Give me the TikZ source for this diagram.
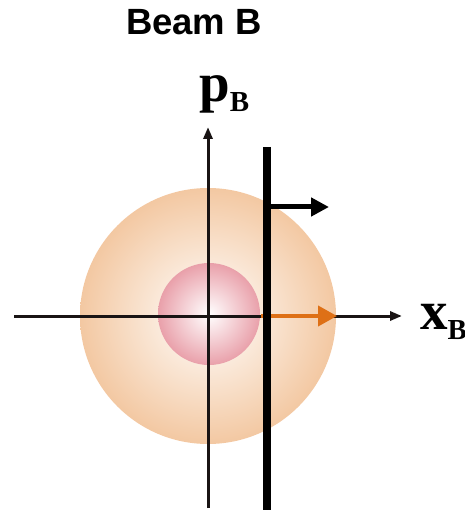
\documentclass[tikz,border=0pt]{standalone}
\usepackage{fontspec}
\setmainfont{Liberation Serif}
\newfontfamily\titlefont{Liberation Sans}
\usetikzlibrary{arrows.meta}
\definecolor{peachc}{RGB}{243,200,162}
\definecolor{pinkc}{RGB}{233,160,170}
\definecolor{orangec}{RGB}{222,112,22}
\definecolor{inkc}{RGB}{25,20,20}
\tikzset{
  axis/.style={draw=inkc, line width=3pt, -{Triangle[length=12pt,width=9pt]}},
  bar/.style={draw=black, line width=8pt},
  kick/.style={draw=black, line width=5pt, -{Triangle[length=18pt,width=18pt]}},
  okick/.style={draw=orangec, line width=4pt, -{Triangle[length=19pt,width=20pt]}},
  lbl/.style={inner sep=0pt, font=\bfseries\fontsize{55}{55}\selectfont}
}
\newcommand{\subB}{\raisebox{-10pt}{\fontsize{29}{29}\selectfont\bfseries B}}
\begin{document}
\begin{tikzpicture}[x=1pt,y=-1pt]
\useasboundingbox (0,0) rectangle (464,510);
% circles
\shade[inner color=white, outer color=peachc] (208,316) circle[radius=128];
\shade[inner color=white, outer color=pinkc] (209,314) circle[radius=51];
% axes
\coordinate (xs) at (14,316);
\coordinate (xe) at (402,316);
\coordinate (ys) at (208,508);
\coordinate (ye) at (208,127);
\draw[axis] (xs) -- (xe);
\draw[axis] (ys) -- (ye);
% orange arrow
\coordinate (os) at (261,316);
\coordinate (oe) at (337,316);
\draw[okick] (os) -- (oe);
% bar
\coordinate (bt) at (267,147);
\coordinate (bb) at (267,510);
\draw[bar] (bt) -- (bb);
% black arrow
\coordinate (ks) at (268,207);
\coordinate (ke) at (329,207);
\draw[kick] (ks) -- (ke);
% labels
\node[anchor=base, inner sep=0pt, font=\titlefont\bfseries\fontsize{36.5}{36.5}\selectfont] (title) at (194,35) {Beam B};
\node[lbl, anchor=base west] (pB) at (199,102) {p\subB};
\node[lbl, anchor=base west] (xB) at (420,329) {x\subB};
\end{tikzpicture}
\end{document}
